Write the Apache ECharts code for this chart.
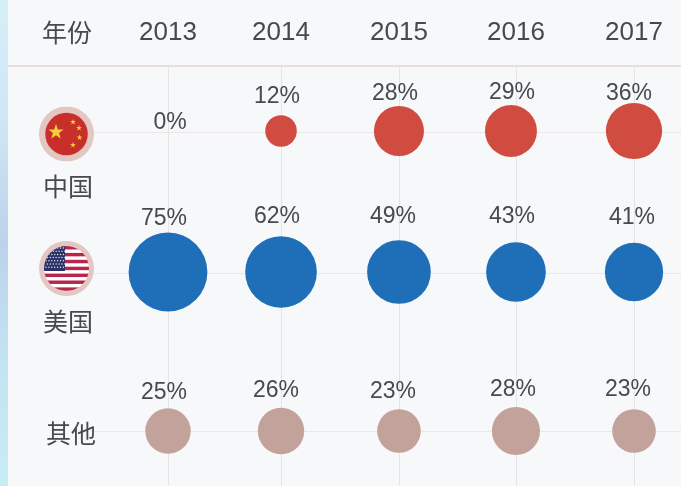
<!DOCTYPE html>
<html><head><meta charset="utf-8">
<style>html,body{margin:0;padding:0;background:#f7f8fa}#c{width:681px;height:486px}</style>
<script src="https://cdn.jsdelivr.net/npm/echarts@6/dist/echarts.min.js"></script>
</head><body><div id="c"></div>
<script>
const yearLabels = ['2013','2014','2015','2016','2017'];
const yearTicks = [2013, 2013.966, 2014.974, 2015.974, 2016.983];
const rowLabels = ['中国','美国','其他'];
const rowTicks = [1.9933, 1.0533, 0];
const china = [0, 12, 28, 29, 36];
const usa = [75, 62, 49, 43, 41];
const other = [25, 26, 23, 28, 23];
const headerLabel = '年份';

const chinaLabelShift = [[2,-8],[-4,-34],[-4,-37],[1,-38],[-5,-37]];
const usaLabelShift = [[-4,-53],[-4,-55],[-6,-55],[-4,-55],[-2,-54]];
const otherLabelShift = [[-4,-38],[-5,-40],[-6,-39],[-3,-41],[-6,-41]];
const chinaSizeScale = [1,1,1.04,1.06,1.03];
const chinaSymbolShift = [[0,-1],[0,-1],[0,-1],[-5,-1],[0,-1]];
const usaSymbolShift = [[0,-1],[0,-1],[0,-1],[0,-1],[0,-1]];

const font = '"Liberation Sans","Noto Sans CJK SC",sans-serif';
const ink = '#454a4e';
const FLAG_CN = 'data:image/svg+xml;utf8,' + encodeURIComponent(
 '<svg xmlns="http://www.w3.org/2000/svg" width="110" height="110" viewBox="0 0 110 110">'+
 '<circle cx="55" cy="55" r="55" fill="#e2c7c2"/><circle cx="55" cy="55" r="42.5" fill="#c82f2a"/>'+
 star(34,51,16)+star(68,31,6)+star(80,43,6)+star(81,62,6)+star(68,77,6)+'</svg>');
const FLAG_US = 'data:image/svg+xml;utf8,' + encodeURIComponent((function(){
 let s='<svg xmlns="http://www.w3.org/2000/svg" width="110" height="110" viewBox="0 0 110 110">'+
 '<defs><clipPath id="k"><circle cx="55" cy="55" r="45"/></clipPath></defs>'+
 '<circle cx="55" cy="55" r="55" fill="#e2c7c2"/><g clip-path="url(#k)"><rect x="0" y="0" width="110" height="110" fill="#fff"/>';
 for(let i=0;i<7;i++){s+='<rect x="0" y="'+(10+i*13.8)+'" width="110" height="6.9" fill="#b9264c"/>';}
 s+='<rect x="0" y="8" width="52" height="52" fill="#2b3268"/>';
 for(let r=0;r<7;r++){for(let c=0;c<7;c++){s+='<circle cx="'+(14+c*5.8+(r%2)*2.9)+'" cy="'+(14+r*6.4)+'" r="1.5" fill="#dfe0ee"/>';}}
 return s+'</g></svg>';
})());
function star(cx,cy,r){
 let p=[];
 for(let i=0;i<10;i++){const a=-Math.PI/2+i*Math.PI/5,q=i%2?r*0.4:r;p.push((cx+q*Math.cos(a)).toFixed(1)+','+(cy+q*Math.sin(a)).toFixed(1));}
 return '<polygon points="'+p.join(' ')+'" fill="#f4cf3b"/>';
}
function rowSeries(name, values, rowIdx, color, shifts, offsets, scale){
 return {
  name, type:'scatter', z:5,
  data: values.map((v,i)=>{
    const it={value:[yearTicks[i],rowTicks[rowIdx],v],symbolSize:9.1*Math.sqrt(v)*(scale?scale[i]:1),
      label:{offset:shifts[i]}};
    if(offsets)it.symbolOffset=offsets[i];
    return it;
  }),
  itemStyle:{color,opacity:1},
  label:{show:true,position:'inside',formatter:p=>p.value[2]+'%',color:ink,fontSize:23,fontFamily:font},
  emphasis:{disabled:true}
 };
}
function txt(t,x,y){return {type:'text',x,y,z:10,style:{text:t,fill:ink,font:'25px '+font,textAlign:'center',textVerticalAlign:'middle'}};}
const chart = echarts.init(document.getElementById('c'),null,{renderer:'canvas'});
chart.setOption({
 animation:false,
 backgroundColor:'#f7f8fa',
 grid:{left:94,right:0,top:66,bottom:0},
 xAxis:{type:'value',position:'top',min:2013-74/117,max:2013+513/117,
   axisLine:{show:false},axisTick:{show:false,customValues:yearTicks},
   axisLabel:{customValues:yearTicks,showMinLabel:true,showMaxLabel:true,margin:20,
     formatter:v=>yearLabels[yearTicks.findIndex(t=>Math.abs(t-v)<1e-6)]||'',
     color:ink,fontSize:26,fontFamily:font},
   splitLine:{show:true,lineStyle:{color:'#e7e4e4',width:1}}},
 yAxis:{type:'value',min:-55/150,max:2+65/150,
   axisLine:{show:false},axisTick:{show:false,customValues:rowTicks},
   axisLabel:{show:false,customValues:rowTicks},
   splitLine:{show:true,lineStyle:{color:'#ebe7e7',width:1}}},
 series:[
  rowSeries('中国',china,0,'#d14c40',chinaLabelShift,chinaSymbolShift,chinaSizeScale),
  rowSeries('美国',usa,1,'#1f6eb8',usaLabelShift,usaSymbolShift),
  rowSeries('其他',other,2,'#c3a29b',otherLabelShift)
 ],
 graphic:[
  {type:'rect',z:1,shape:{x:0,y:0,width:8,height:486},style:{fill:new echarts.graphic.LinearGradient(0,0,0,1,[
    {offset:0,color:'#d5eff8'},{offset:0.25,color:'#cfe6f4'},{offset:0.5,color:'#bcd2ea'},{offset:0.75,color:'#c3e4f2'},{offset:1,color:'#c8ecf4'}])}},
  {type:'rect',z:1,shape:{x:8,y:65,width:673,height:2},style:{fill:'#e8dfdd'}},
  {type:'image',z:9,style:{image:FLAG_CN,x:39,y:106.5,width:55,height:55}},
  {type:'image',z:9,style:{image:FLAG_US,x:39,y:241,width:55,height:55}},
  txt(headerLabel,67,35),
  txt(rowLabels[0],68,189),
  txt(rowLabels[1],68,324),
  txt(rowLabels[2],71,436)
 ]
});
</script></body></html>
